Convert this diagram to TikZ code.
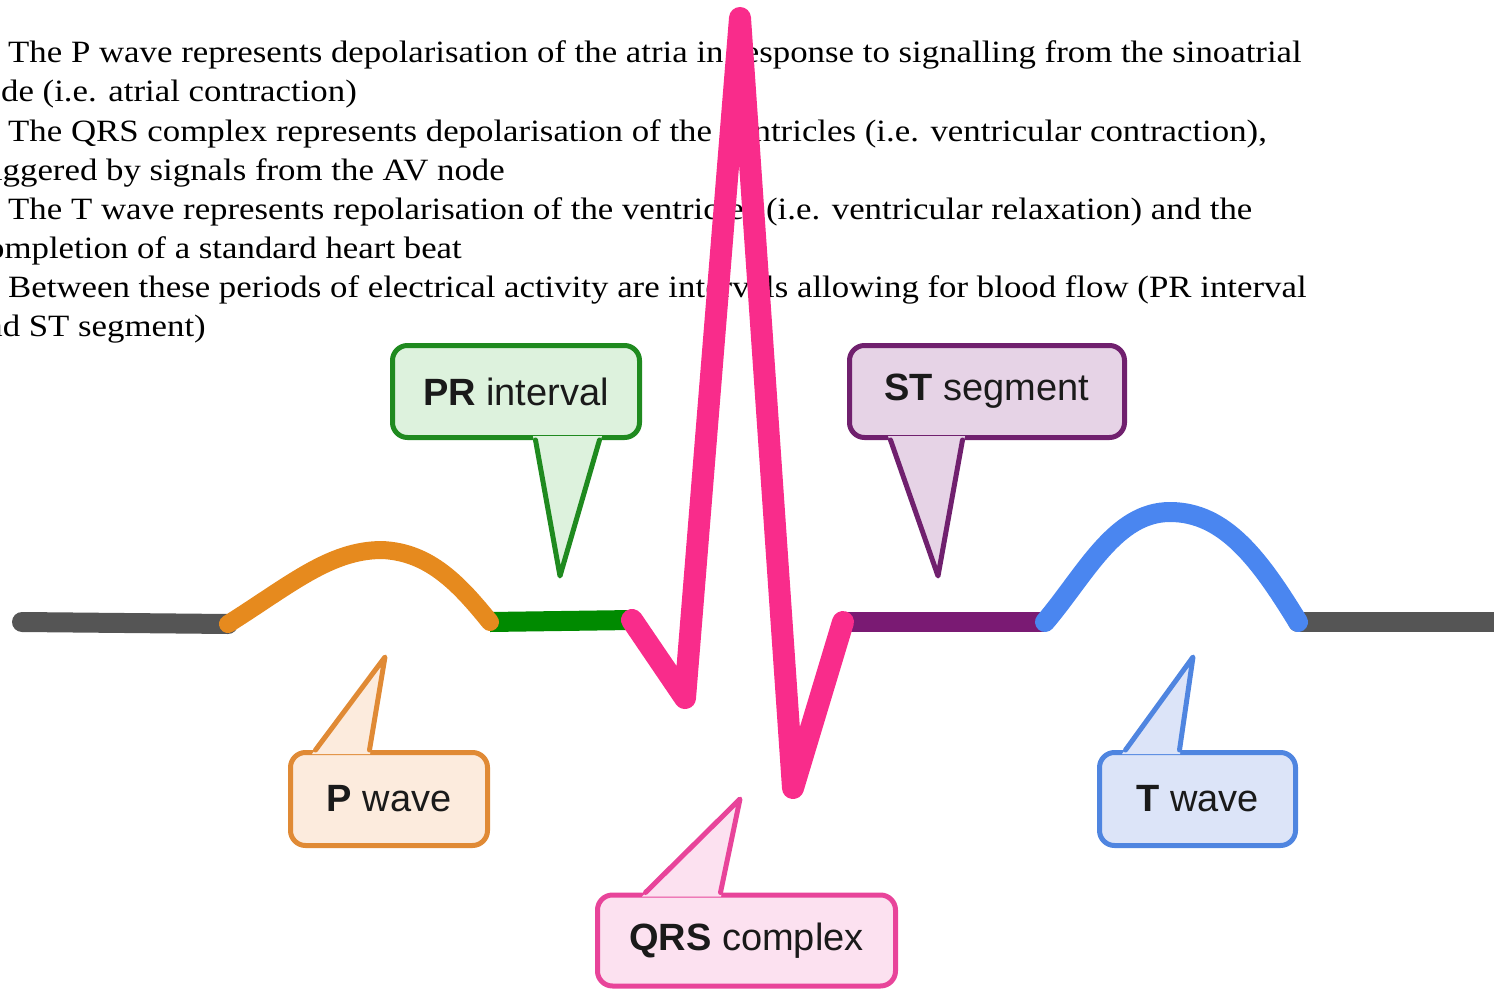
\documentclass[tikz,border=0pt]{standalone}
\usepackage{fontspec}
\setmainfont{Liberation Serif}
\newfontfamily\arialfont{Liberation Sans}
\usetikzlibrary{calc}
\definecolor{ecggray}{HTML}{555555}
\definecolor{porange}{HTML}{E68A1E}
\definecolor{prgreen}{HTML}{008A00}
\definecolor{qrspink}{HTML}{F92C8B}
\definecolor{stpurple}{HTML}{7A1A73}
\definecolor{tblue}{HTML}{4A86F0}
\definecolor{prfill}{HTML}{DDF2DD}\definecolor{prline}{HTML}{1F8A1F}
\definecolor{stfill}{HTML}{E6D3E6}\definecolor{stline}{HTML}{70206E}
\definecolor{pfill}{HTML}{FCEBDD}\definecolor{pline}{HTML}{E08A35}
\definecolor{tfill}{HTML}{DCE4F8}\definecolor{tline}{HTML}{4F85E0}
\definecolor{qfill}{HTML}{FCE1F0}\definecolor{qline}{HTML}{E8449A}
\definecolor{labeltext}{HTML}{1A1A1A}
\newcommand{\wide}[1]{\scalebox{1.123}[1]{#1}}
\begin{document}
\begin{tikzpicture}[x=1pt,y=-1pt,
  bodytext/.style={inner sep=0pt, font=\fontsize{31}{37}\selectfont},
  trace/.style={line width=20pt, line cap=round, line join=round},
  callbox/.style={rounded corners=15pt, line width=5pt, inner sep=0pt,
    font=\arialfont\fontsize{38}{45}\selectfont, text=labeltext, minimum height=92pt},
  pointer/.style={line width=5pt, line join=round, line cap=round}
]
\useasboundingbox (0,0) rectangle (1494,990);
\clip (0,0) rectangle (1494,990);

% description text
\node[bodytext, anchor=base west] (t1) at (8,63) {\wide{The P wave represents depolarisation of the atria in response to signalling from the sinoatrial}};
\node[bodytext, anchor=base east] (t2) at (357,102) {\wide{node (i.e. atrial contraction)}};
\node[bodytext, anchor=base west] (t3) at (8,141) {\wide{The QRS complex represents depolarisation of the ventricles (i.e. ventricular contraction),}};
\node[bodytext, anchor=base east] (t4) at (505,180) {\wide{triggered by signals from the AV node}};
\node[bodytext, anchor=base west] (t5) at (8,219) {\wide{The T wave represents repolarisation of the ventricles (i.e. ventricular relaxation) and the}};
\node[bodytext, anchor=base east] (t6) at (462,258) {\wide{completion of a standard heart beat}};
\node[bodytext, anchor=base west] (t7) at (8,297) {\wide{Between these periods of electrical activity are intervals allowing for blood flow (PR interval}};
\node[bodytext, anchor=base east] (t8) at (206,336) {\wide{and ST segment)}};

% ECG trace
\coordinate (g0) at (22,622);
\coordinate (p0) at (228,624);
\coordinate (ppk) at (382,550);
\coordinate (p1) at (490,622);
\coordinate (q0) at (632,620);
\coordinate (qq) at (685,698);
\coordinate (rr) at (740,18);
\coordinate (ss) at (793,788);
\coordinate (s1) at (843,622);
\coordinate (t0) at (1045,622);
\coordinate (tpk) at (1170,512);
\coordinate (t1e) at (1298,622);
\coordinate (g1) at (1520,622);

\draw[trace, ecggray] (g0) -- (p0);
\draw[trace, ecggray] (t1e) -- (g1);
\draw[trace, prgreen, line cap=butt] (p1) -- (q0);
\draw[trace, stpurple, line cap=butt] (s1) -- (t0);
\draw[trace, porange, line width=18pt] (p0) .. controls (290,585) and (330,550) .. (ppk) .. controls (430,552) and (460,585) .. (p1);
\draw[trace, tblue] (t0) .. controls (1085,575) and (1115,512) .. (tpk) .. controls (1225,512) and (1260,560) .. (t1e);
\draw[trace, qrspink, line width=22pt] (q0) -- (qq) -- (rr) -- (ss) -- (s1);

% callouts
\coordinate (prtip) at (560,576);
\coordinate (sttip) at (938,576);
\coordinate (ptip) at (385,657);
\coordinate (ttip) at (1193,657);
\coordinate (qtip) at (740,799);

% PR interval
\node[callbox, fill=prfill, draw=prline, minimum width=247pt] (pr) at (516,391.5) {\textbf{PR} interval};
\fill[prfill] ($(pr.south west)+(143,-4)$) -- (prtip) -- ($(pr.south west)+(212,-4)$) -- cycle;
\draw[pointer, prline] ($(pr.south west)+(145.5,0)$) -- (prtip) -- ($(pr.south west)+(209.5,0)$);

% ST segment
\node[callbox, fill=stfill, draw=stline, minimum width=275pt] (st) at (987,391.5) {\textbf{ST} segment};
\fill[stfill] ($(st.south west)+(41,-4)$) -- (sttip) -- ($(st.south west)+(118,-4)$) -- cycle;
\draw[pointer, stline] ($(st.south west)+(43.5,0)$) -- (sttip) -- ($(st.south west)+(115.5,0)$);

% P wave
\node[callbox, fill=pfill, draw=pline, minimum width=197pt, minimum height=93pt] (pw) at (389,799) {\textbf{P} wave};
\fill[pfill] ($(pw.north west)+(24,4)$) -- (ptip) -- ($(pw.north west)+(82,4)$) -- cycle;
\draw[pointer, pline] ($(pw.north west)+(27.5,0)$) -- (ptip) -- ($(pw.north west)+(81.5,0)$);

% T wave
\node[callbox, fill=tfill, draw=tline, minimum width=196pt, minimum height=93pt] (tw) at (1197.5,799) {\textbf{T} wave};
\fill[tfill] ($(tw.north west)+(25,4)$) -- (ttip) -- ($(tw.north west)+(83,4)$) -- cycle;
\draw[pointer, tline] ($(tw.north west)+(28.5,0)$) -- (ttip) -- ($(tw.north west)+(82.5,0)$);

% QRS complex
\node[callbox, fill=qfill, draw=qline, minimum width=298pt, minimum height=91pt] (qrs) at (746.5,940.5) {\textbf{QRS} complex};
\fill[qfill] ($(qrs.north west)+(47,4)$) -- (qtip) -- ($(qrs.north west)+(126,4)$) -- cycle;
\draw[pointer, qline] ($(qrs.north west)+(50.5,0)$) -- (qtip) -- ($(qrs.north west)+(125.5,0)$);
\end{tikzpicture}
\end{document}
